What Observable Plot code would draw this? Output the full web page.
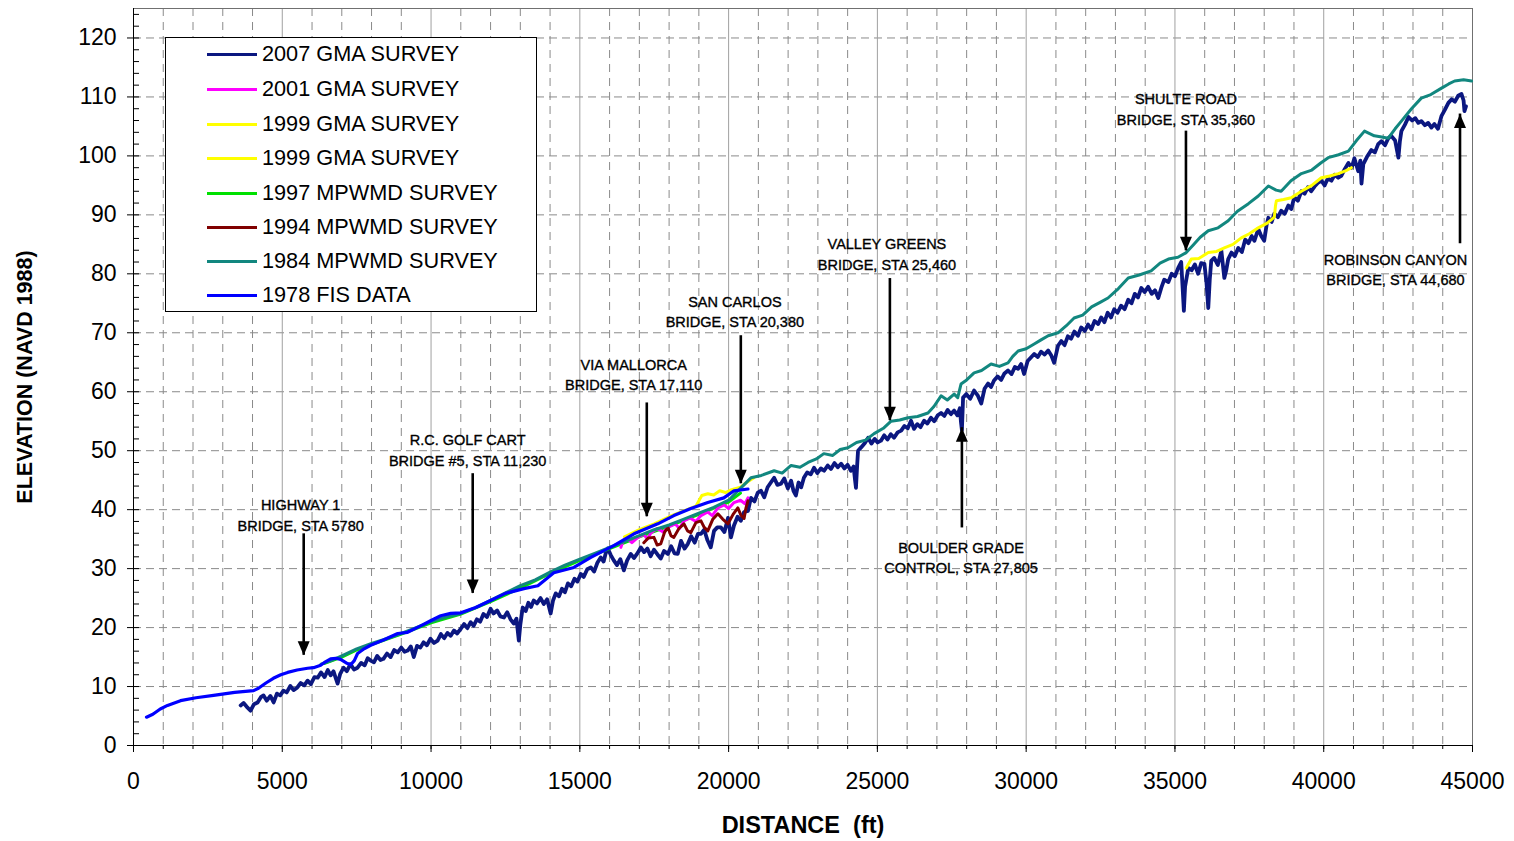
<!DOCTYPE html>
<html>
<head>
<meta charset="utf-8">
<script src="https://cdn.jsdelivr.net/npm/d3@7"></script>
<script src="https://cdn.jsdelivr.net/npm/@observablehq/plot@0.6"></script>
<style>
  html, body { margin: 0; padding: 0; background: #fff; }
  #wrap { position: relative; width: 1514px; height: 841px; font-family: Arial, "Liberation Sans", sans-serif; }
  #legend { position: absolute; left: 165px; top: 37px; width: 372px; height: 275px; border: 1px solid #000; background: #fff; box-sizing: border-box; }
  .row { position: absolute; left: 0; height: 24px; display: flex; align-items: center; }
  .swatch { width: 50px; height: 3px; margin-left: 41px; margin-right: 5px; }
  .lbl { font-size: 21.7px; color: #000; white-space: nowrap; }
</style>
</head>
<body>
<div id="wrap"><div id="chart"></div><div id="legend"></div></div>
<script>
// ---- Series data: [distance (ft), elevation (ft NAVD 1988)] ----
const s2007 = [[3600,6.8],[3700,7.2],[3800,6.6],[3935,5.9],[4050,7.0],[4170,7.3],[4280,8.2],[4370,8.5],[4480,7.6],[4600,8.4],[4710,7.3],[4820,8.8],[4930,8.5],[5040,9.3],[5150,9.0],[5270,10.1],[5380,9.4],[5500,9.8],[5620,10.6],[5740,10.2],[5850,11.0],[5960,10.4],[6080,11.6],[6190,11.5],[6300,12.4],[6420,11.6],[6530,12.8],[6625,11.9],[6720,12.6],[6800,11.4],[6860,10.5],[6950,12.2],[7060,13.2],[7170,12.6],[7290,13.8],[7410,12.9],[7530,13.2],[7650,14.0],[7770,13.6],[7870,14.8],[7970,14.4],[8080,14.1],[8190,15.2],[8300,14.5],[8400,14.7],[8520,15.6],[8640,15.0],[8760,16.2],[8880,15.8],[9000,16.6],[9110,15.9],[9215,16.1],[9320,16.8],[9420,15.0],[9530,16.9],[9640,16.6],[9750,17.5],[9860,17.0],[9980,18.1],[10100,17.4],[10220,17.8],[10330,18.9],[10440,18.2],[10550,19.1],[10660,18.6],[10770,19.5],[10880,19.0],[11000,19.8],[11110,20.6],[11220,19.9],[11330,20.9],[11430,20.3],[11540,21.4],[11650,21.0],[11760,22.3],[11880,21.8],[12000,23.2],[12100,22.4],[12220,22.9],[12330,21.9],[12450,21.7],[12560,22.6],[12670,21.4],[12780,20.7],[12870,21.5],[12950,17.8],[13000,20.5],[13080,23.4],[13180,22.8],[13270,24.2],[13360,23.5],[13450,24.6],[13560,24.1],[13680,25.0],[13790,24.0],[13900,24.8],[14020,22.4],[14100,24.6],[14190,25.8],[14300,25.3],[14400,26.6],[14500,26.0],[14600,27.5],[14710,27.0],[14820,28.3],[14920,27.8],[15030,29.1],[15130,28.6],[15250,29.9],[15370,30.2],[15480,29.5],[15590,31.0],[15700,31.9],[15800,31.2],[15870,32.6],[15940,33.4],[16040,32.3],[16140,31.4],[16250,30.6],[16360,31.6],[16480,29.7],[16590,31.4],[16710,32.5],[16820,31.8],[16950,32.7],[17050,33.6],[17160,32.8],[17270,33.4],[17380,32.1],[17490,33.2],[17610,32.4],[17720,31.7],[17830,33.0],[17960,32.5],[18070,33.8],[18180,32.6],[18290,32.5],[18400,34.7],[18520,33.4],[18630,34.2],[18740,35.5],[18860,34.4],[18970,35.9],[19070,35.9],[19180,36.6],[19290,34.8],[19400,33.6],[19510,36.4],[19620,37.0],[19740,37.0],[19860,36.2],[19980,38.6],[20080,35.3],[20180,37.3],[20300,38.8],[20410,38.1],[20520,39.6],[20650,39.8],[20750,42.0],[20870,41.4],[20980,42.9],[21090,43.2],[21200,42.1],[21310,43.8],[21420,44.6],[21530,45.4],[21640,44.2],[21760,44.4],[21870,45.3],[21990,43.6],[22100,44.9],[22180,43.2],[22260,42.4],[22350,44.6],[22440,43.8],[22530,45.4],[22640,46.3],[22760,46.0],[22870,47.1],[22980,46.2],[23100,47.0],[23210,46.6],[23330,47.5],[23440,46.9],[23560,47.9],[23670,47.2],[23780,47.8],[23890,47.0],[24000,47.6],[24110,46.6],[24200,47.3],[24250,45.0],[24280,43.7],[24320,47.5],[24350,50.0],[24460,50.6],[24580,51.3],[24690,52.2],[24800,51.2],[24910,52.0],[25010,51.4],[25120,51.7],[25230,52.6],[25340,51.9],[25450,52.8],[25560,52.2],[25680,53.1],[25800,53.4],[25910,54.2],[26020,53.8],[26130,55.1],[26230,53.7],[26340,54.5],[26450,54.0],[26570,55.1],[26680,54.6],[26800,55.6],[26910,55.0],[27030,56.0],[27140,56.4],[27250,55.9],[27360,56.9],[27470,56.2],[27580,56.8],[27690,56.0],[27770,57.2],[27810,54.8],[27840,53.5],[27880,59.0],[27990,59.6],[28120,58.8],[28250,60.2],[28370,59.4],[28490,58.0],[28600,60.5],[28720,61.4],[28820,60.8],[28920,61.9],[29040,62.6],[29160,62.0],[29270,63.1],[29390,63.6],[29510,63.0],[29620,64.2],[29730,63.9],[29830,64.7],[29930,63.0],[30050,65.2],[30160,65.8],[30270,66.4],[30390,65.9],[30500,66.8],[30620,66.3],[30740,67.0],[30840,66.2],[30940,64.9],[31070,67.8],[31180,68.6],[31290,67.9],[31400,69.4],[31510,69.0],[31620,70.2],[31740,69.5],[31850,70.9],[31970,70.3],[32080,71.4],[32190,70.6],[32300,72.0],[32420,71.5],[32520,72.6],[32630,71.8],[32740,73.4],[32850,72.6],[32960,74.0],[33070,73.4],[33190,74.6],[33310,74.0],[33430,75.6],[33540,75.0],[33650,76.6],[33760,76.0],[33870,77.6],[33980,76.9],[34100,77.8],[34220,76.6],[34330,77.2],[34440,75.9],[34540,77.6],[34640,79.0],[34780,78.6],[34890,80.0],[35000,79.6],[35110,81.0],[35210,82.0],[35260,77.5],[35300,73.7],[35340,77.8],[35450,81.0],[35560,80.6],[35670,81.6],[35780,80.0],[35880,81.8],[35990,81.7],[36060,78.5],[36120,74.2],[36170,79.0],[36220,82.2],[36320,82.7],[36440,81.5],[36560,83.9],[36660,79.3],[36720,80.5],[36790,82.5],[36900,83.6],[37010,83.0],[37130,84.4],[37250,83.7],[37360,85.8],[37470,85.2],[37580,86.4],[37670,85.6],[37800,87.6],[37900,86.4],[38000,85.6],[38080,88.3],[38140,89.5],[38250,88.8],[38340,90.2],[38460,89.6],[38570,90.7],[38690,90.2],[38810,91.6],[38910,91.0],[39010,93.0],[39130,92.4],[39250,94.0],[39360,93.6],[39470,94.7],[39580,94.0],[39690,94.8],[39800,95.4],[39920,95.8],[40030,95.0],[40140,96.2],[40260,95.8],[40370,96.8],[40490,96.3],[40590,96.6],[40710,97.8],[40830,98.8],[40940,98.0],[41030,99.6],[41160,97.4],[41230,99.2],[41270,95.3],[41330,98.6],[41450,99.8],[41600,101.0],[41720,100.6],[41830,102.0],[41940,102.5],[42060,101.8],[42170,103.0],[42270,103.4],[42400,102.6],[42510,99.7],[42560,102.5],[42610,104.2],[42730,105.3],[42850,106.6],[42970,106.0],[43080,106.4],[43180,105.6],[43280,105.9],[43400,105.2],[43510,105.6],[43620,104.8],[43720,105.4],[43840,104.6],[43960,106.8],[44070,107.8],[44190,109.0],[44300,109.6],[44410,109.2],[44520,110.2],[44630,110.5],[44700,109.4],[44730,107.6],[44780,108.4]];

const s2001 = [[16380,33.6],[16460,34.8],[16610,35.0],[16750,34.4],[16950,35.3],[17150,35.8],[17270,35.0],[17390,36.1],[17600,36.8],[17800,36.2],[17960,37.0],[18200,37.6],[18350,36.8],[18500,38.1],[18700,38.6],[18900,38.0],[19070,39.0],[19300,39.6],[19450,39.0],[19640,40.3],[19850,40.8],[20000,40.2],[20180,41.2],[20400,41.6],[20550,41.0],[20650,42.0]];

const s1999a = [[16500,35.4],[17000,36.6],[17500,37.6],[18000,38.8],[18500,39.8],[18900,40.6],[19100,42.4],[19300,42.7],[19500,42.5],[19700,43.2],[19900,42.9],[20100,43.4],[20400,43.8],[20600,44.6],[20850,45.4]];

const s1999b = [[35380,81.0],[35550,82.5],[35800,82.6],[36120,83.6],[36400,83.8],[36660,84.4],[36950,85.0],[37230,86.1],[37500,86.8],[37800,87.8],[38100,88.6],[38340,89.6],[38380,91.6],[38410,92.4],[38650,92.6],[38910,92.9],[39250,94.0],[39600,95.0],[39920,96.3],[40200,96.6],[40490,97.0],[40750,97.5],[40930,98.0]];

const s1997 = [[6400,13.9],[7000,15.0],[7500,16.2],[8000,17.1],[9000,18.9],[10000,20.8],[11000,22.3],[12000,24.4],[13000,26.7],[14000,29.2],[15000,31.4],[16000,33.4],[17000,35.4],[18000,37.2],[19000,39.2],[20000,41.3],[20400,42.8]];

const s1994 = [[17150,34.4],[17300,35.2],[17490,35.3],[17600,34.0],[17720,34.2],[17850,36.2],[17960,37.0],[18060,35.6],[18160,35.3],[18330,36.8],[18500,37.6],[18620,36.4],[18730,36.1],[18900,37.8],[19070,38.1],[19180,37.0],[19300,36.4],[19470,38.4],[19640,39.3],[19800,38.4],[19980,37.6],[20150,39.2],[20310,40.3],[20420,39.0],[20520,38.5],[20580,40.2],[20650,41.5]];

const s1984 = [[6300,13.8],[6600,14.3],[7000,15.2],[7500,16.4],[8000,17.3],[8500,18.1],[9000,19.0],[9500,20.0],[10000,21.0],[10500,21.8],[11000,22.4],[11500,23.4],[12000,24.6],[12500,25.9],[13000,27.1],[13500,28.1],[14000,29.4],[14500,30.6],[15000,31.6],[15500,32.6],[16000,33.6],[16500,34.6],[17000,35.6],[17500,36.6],[18000,37.4],[18500,38.4],[19000,39.4],[19500,40.4],[20000,41.6],[20415,43.7],[20750,45.4],[21100,45.8],[21530,46.6],[21800,46.2],[22100,47.5],[22400,47.2],[22670,48.0],[22950,48.6],[23200,49.5],[23500,49.2],[23750,50.2],[24010,50.5],[24300,51.4],[24600,51.8],[24890,52.9],[25200,53.8],[25460,55.0],[25750,55.2],[26030,55.6],[26350,55.8],[26700,56.4],[26900,57.5],[27140,59.3],[27350,58.6],[27580,59.6],[27700,59.0],[27810,61.3],[28000,62.0],[28250,63.2],[28500,63.6],[28820,64.7],[29100,64.3],[29390,64.9],[29550,66.0],[29730,66.9],[30000,67.3],[30270,68.1],[30500,68.8],[30740,69.5],[31070,70.0],[31350,71.2],[31610,72.5],[31900,73.0],[32200,74.4],[32500,75.2],[32750,75.9],[33100,77.5],[33430,79.3],[33800,79.8],[34200,80.5],[34500,81.8],[34780,82.5],[35100,82.8],[35380,83.6],[35600,84.8],[35850,86.2],[36120,87.3],[36450,87.8],[36790,89.0],[37100,90.6],[37470,91.9],[37800,93.2],[38140,94.9],[38400,94.2],[38570,94.0],[38900,95.8],[39250,97.0],[39600,97.6],[39900,98.8],[40150,99.7],[40500,100.2],[40830,100.8],[41100,102.6],[41370,104.2],[41700,103.4],[41950,103.2],[42170,103.0],[42400,104.6],[42610,105.9],[42950,108.0],[43280,109.8],[43600,110.4],[43960,111.5],[44200,112.2],[44400,112.7],[44700,112.9],[44970,112.7]];

const s1978 = [[437,4.8],[650,5.3],[900,6.2],[1143,6.8],[1580,7.6],[2100,8.1],[2690,8.5],[3400,9.0],[4036,9.3],[4200,9.7],[4450,10.6],[4700,11.4],[4950,12.0],[5180,12.4],[5500,12.8],[5850,13.1],[6050,13.2],[6290,13.6],[6450,14.2],[6625,14.7],[6800,14.8],[6960,14.6],[7150,14.0],[7300,13.7],[7420,14.4],[7530,15.6],[7750,16.4],[7970,17.0],[8400,17.9],[8880,19.0],[9210,19.2],[9650,20.3],[10000,21.2],[10325,22.0],[10660,22.4],[11000,22.5],[11500,23.4],[12000,24.6],[12500,25.8],[13120,26.6],[13590,27.1],[14125,29.3],[14800,30.2],[15370,31.9],[16140,33.9],[16820,35.9],[17620,37.6],[18160,39.0],[18730,40.2],[19300,41.2],[19840,42.0],[20180,43.2],[20650,43.5]];

// legend order (names / colours)
const seriesNames = ["2007 GMA SURVEY","2001 GMA SURVEY","1999 GMA SURVEY","1999 GMA SURVEY","1997 MPWMD SURVEY","1994 MPWMD SURVEY","1984 MPWMD SURVEY","1978 FIS DATA"];
const seriesColors = ["#0b1780","#ff00ff","#ffff00","#ffff00","#00e000","#800000","#12877f","#0000ff"];
const seriesData = [s2007, s2001, s1999a, s1999b, s1997, s1994, s1984, s1978];
const drawOrder = [0, 4, 2, 3, 1, 5, 6, 7];

// ---- Annotations ----
const annotLabels = ["HIGHWAY 1\nBRIDGE, STA 5780","R.C. GOLF CART\nBRIDGE #5, STA 11,230","VIA MALLORCA\nBRIDGE, STA 17,110","SAN CARLOS\nBRIDGE, STA 20,380","VALLEY GREENS\nBRIDGE, STA 25,460","BOULDER GRADE\nCONTROL, STA 27,805","SHULTE ROAD\nBRIDGE, STA 35,360","ROBINSON CANYON\nBRIDGE, STA 44,680"];
const annotArrowX = [5720, 11400, 17250, 20410, 25420, 27840, 35370, 44580];
const annotFrom   = [35.9, 46.1, 58.1, 69.5, 79.2, 36.9, 104.2, 85.1];
const annotTip    = [15.3, 25.8, 38.8, 44.4, 55.1, 53.9, 83.9, 107.1];
const annotTextX  = [5617, 11230, 16810, 20210, 25320, 27810, 35370, 42410];
const annotTextY  = [39.3, 50.3, 63.1, 73.8, 83.5, 32.1, 108.1, 80.9];

// ---- Axis ticks ----
const xTicks = [0,5000,10000,15000,20000,25000,30000,35000,40000,45000];
const yTicks = [0,10,20,30,40,50,60,70,80,90,100,110,120];
const xMinor = d3.range(0, 45001, 1000);
const yMinor = d3.range(0, 125, 2);
const xGridMinor = xMinor.filter(d => d % 5000 !== 0);
const xGridMajor = [5000,10000,15000,20000,25000,30000,35000,40000];
const yGrid = yTicks.filter(d => d > 0);

const annots = annotLabels.map((label, i) => ({
  label, ax: annotArrowX[i], from: annotFrom[i], tip: annotTip[i], tx: annotTextX[i], ty: annotTextY[i],
  up: annotTip[i] > annotFrom[i]
}));

const arrowHead = { draw(ctx) { ctx.moveTo(0, 0); ctx.lineTo(-6, -14); ctx.lineTo(6, -14); ctx.closePath(); } };
const fmt = d3.format("d");
const widths = [3.8, 3, 3, 3, 3, 3, 3, 3.2];

const lineMarks = drawOrder.map(i => Plot.line(seriesData[i], {
  x: d => d[0], y: d => d[1], stroke: seriesColors[i],
  strokeWidth: widths[i], strokeLinejoin: "round", strokeLinecap: "round"
}));

const chart = Plot.plot({
  width: 1514, height: 841,
  marginLeft: 133, marginRight: 42, marginTop: 8, marginBottom: 96,
  x: { domain: [0, 45000] },
  y: { domain: [0, 125] },
  style: { fontFamily: 'Arial, "Liberation Sans", sans-serif', background: "#fff", color: "#000", overflow: "visible" },
  marks: [
    Plot.ruleY(yGrid, { stroke: "#8a8a8a", strokeWidth: 1, strokeDasharray: "8,5" }),
    Plot.ruleX(xGridMinor, { stroke: "#8a8a8a", strokeWidth: 1, strokeDasharray: "8,6" }),
    Plot.ruleX(xGridMajor, { stroke: "#a0a0a0", strokeWidth: 1 }),
    Plot.frame({ stroke: "#707070" }),
    ...lineMarks,
    Plot.ruleX(annots, { x: "ax", y1: "from", y2: "tip", stroke: "#000", strokeWidth: 2.6 }),
    Plot.dot(annots, { x: "ax", y: "tip", symbol: arrowHead, rotate: d => d.up ? 180 : 0, fill: "#000", stroke: "none" }),
    Plot.text(annots, { x: "tx", y: "ty", text: "label", fontSize: 14.5, lineHeight: 1.42, fill: "#000", stroke: "#000", strokeWidth: 0.35, textAnchor: "middle" }),
    Plot.ruleX([0], { stroke: "#000" }),
    Plot.ruleY([0], { stroke: "#000" }),
    Plot.axisX(xTicks, { tickSize: 7, tickPadding: 20, fontSize: 23, tickFormat: fmt, label: null }),
    Plot.axisX(xMinor, { tickSize: 4, tickFormat: () => "", label: null }),
    Plot.axisY(yTicks, { tickSize: 6, tickPadding: 11, fontSize: 23, tickFormat: fmt, label: null }),
    Plot.axisY(yMinor, { tickSize: 6, dx: 6, tickFormat: () => "", label: null }),
    Plot.text(["DISTANCE\u00a0\u00a0(ft)"], { frameAnchor: "bottom", lineAnchor: "middle", textAnchor: "middle", dy: 80, fontSize: 23.5, fontWeight: "bold", fill: "#000" }),
    Plot.text(["ELEVATION (NAVD 1988)"], { frameAnchor: "left", textAnchor: "middle", lineAnchor: "middle", dx: -108, rotate: -90, fontSize: 21.5, fontWeight: "bold", fill: "#000" })
  ]
});
document.getElementById("chart").appendChild(chart);

// legend inside plot area
const legend = document.getElementById("legend");
const rowCenters = [16, 51, 86, 120, 155, 189, 223, 257];
seriesNames.forEach((name, i) => {
  const row = document.createElement("div");
  row.className = "row";
  row.style.top = (rowCenters[i] - 12) + "px";
  const sw = document.createElement("div");
  sw.className = "swatch";
  sw.style.background = seriesColors[i];
  const lb = document.createElement("span");
  lb.className = "lbl";
  lb.textContent = name;
  row.appendChild(sw); row.appendChild(lb);
  legend.appendChild(row);
});
</script>
</body>
</html>
